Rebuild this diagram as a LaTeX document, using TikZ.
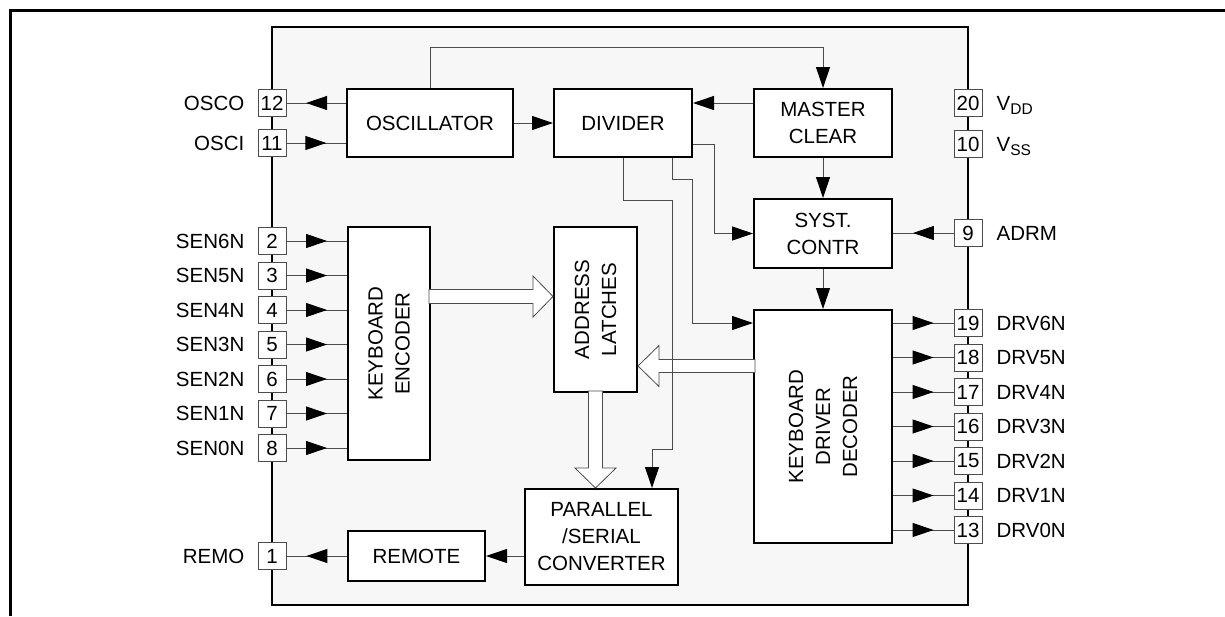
\documentclass[tikz,border=0pt]{standalone}
\usepackage{fontspec}
\setmainfont{Liberation Sans}
\usetikzlibrary{arrows.meta,decorations.markings,calc}
\newcommand\dfont{\fontsize{20.5}{27}\selectfont}
\newcommand\subtx[1]{\raisebox{-4pt}{\fontsize{15.5}{15.5}\selectfont #1}}
\tikzset{
 blk/.style={draw,line width=2pt,fill=white,align=center,inner sep=0pt,font=\dfont},
 pinbx/.style={draw=black!70,line width=0.9pt,fill=white,minimum width=28pt,minimum height=27pt,inner sep=0pt,font=\dfont},
 lbl/.style={inner sep=0pt,font=\dfont},
 wire/.style={line width=1pt,draw=black!70},
 tipend/.style={wire,-{Triangle[length=21pt,width=14pt,color=black]}},
 midarr/.style={wire,postaction={decorate,decoration={markings,mark=at position 0.67 with {\arrow{Triangle[length=21pt,width=14pt,color=black]}}}}},
 bus/.style={line width=0.8pt,draw=black!70,fill=white},
}
\begin{document}
\begin{tikzpicture}[x=1pt,y=-1pt]
\useasboundingbox (0,0) rectangle (1225,616);
\draw[line width=3pt] (10,616) -- (10,10) -- (1225,10);
% chip
\draw[line width=2.5pt,fill=black!3] (272,27) rectangle (968,605);
% blocks
\node[blk,minimum width=166pt,minimum height=68pt] (osc) at (430,123) {OSCILLATOR};
\node[blk,minimum width=138pt,minimum height=68pt] (div) at (623,123) {DIVIDER};
\node[blk,minimum width=138pt,minimum height=68pt] (mc) at (823,123) {MASTER\\CLEAR};
\node[blk,minimum width=138pt,minimum height=69pt] (sc) at (823,233.5) {SYST.\\CONTR};
\node[blk,minimum width=138pt,minimum height=233pt] (kdd) at (823,426.5) {};
\node[lbl,rotate=90,align=center] at (kdd.center) {KEYBOARD\\DRIVER\\DECODER};
\node[blk,minimum width=82pt,minimum height=233pt] (enc) at (389,343.5) {};
\node[lbl,rotate=90,align=center] at (enc.center) {KEYBOARD\\ENCODER};
\node[blk,minimum width=83pt,minimum height=165pt] (al) at (595.5,309.5) {};
\node[lbl,rotate=90,align=center] at (al.center) {ADDRESS\\LATCHES};
\node[blk,minimum width=137pt,minimum height=50pt] (rem) at (416.5,556) {REMOTE};
\node[blk,minimum width=153pt,minimum height=96pt] (par) at (601.5,537) {PARALLEL\\/SERIAL\\CONVERTER};
% left pins
\foreach \n/\y/\t in {12/103/OSCO,11/143/OSCI,2/241/SEN6N,3/275.5/SEN5N,4/310/SEN4N,5/344.5/SEN3N,6/379/SEN2N,7/413.5/SEN1N,8/448/SEN0N,1/556/REMO}{
  \node[pinbx] (p\n) at (272,\y) {\n};
  \node[lbl,anchor=base east] (l\n) at ($(p\n.west)+(-13,7.3)$) {\t};
}
% right pins
\foreach \n/\y/\t in {20/103/V\subtx{DD},10/144/V\subtx{SS},9/233/ADRM,19/323/DRV6N,18/357.5/DRV5N,17/392/DRV4N,16/426.5/DRV3N,15/461/DRV2N,14/495.5/DRV1N,13/530/DRV0N}{
  \node[pinbx] (p\n) at (968,\y) {\n};
  \node[lbl,anchor=base west] (l\n) at ($(p\n.east)+(14,7.3)$) {\t};
}
% bus arrows
\coordinate (t1) at ($(al.west)+(0,-13)$);
\draw[bus] (t1) -- ++(-20,-20.5) -- ++(0,13.5) -- ++(-104,0) -- ++(0,14) -- ++(104,0) -- ++(0,13.5) -- cycle;
\coordinate (t2) at ($(al.east)+(0,56.5)$);
\draw[bus] (t2) -- ++(21,-20.5) -- ++(0,14) -- ++(96,0) -- ++(0,13) -- ++(-96,0) -- ++(0,14) -- cycle;
\coordinate (t3) at (al.south |- par.north);
\draw[bus] (t3) -- ++(-20.5,-20) -- ++(13.5,0) -- ++(0,-77) -- ++(14,0) -- ++(0,77) -- ++(13.5,0) -- cycle;
% pin connections
\draw[midarr] (osc.west |- p12) -- (p12.east);
\draw[midarr] (p11.east) -- (osc.west |- p11);
\foreach \n in {2,3,4,5,6,7,8}{
  \draw[midarr] (p\n.east) -- (enc.west |- p\n);
}
\draw[midarr] (rem.west) -- (p1.east);
\draw[midarr] (p9.west) -- (sc.east |- p9);
\foreach \n in {19,18,17,16,15,14,13}{
  \draw[midarr] (kdd.east |- p\n) -- (p\n.west);
}
% internal
\draw[tipend] (osc.east) -- (div.west);
\draw[tipend] (mc.west |- p12) -- (div.east |- p12);
\draw[tipend] (osc.north) -- ++(0,-41) -| (mc.north);
\draw[tipend] (mc.south) -- (sc.north);
\draw[tipend] (sc.south) -- (kdd.north);
\draw[tipend] (par.west |- rem.east) -- (rem.east);
\draw[tipend] ([yshift=-21pt]div.east) -- ++(21,0) |- (sc.west);
\draw[tipend] ([xshift=49pt]div.south) -- ++(0,21) -- ++(20,0) |- (kdd.west |- p19);
\draw[tipend] (div.south) -- ++(0,42) -- ++(49,0) -- ++(0,249) -| ([xshift=50.5pt]par.north);
\end{tikzpicture}
\end{document}
